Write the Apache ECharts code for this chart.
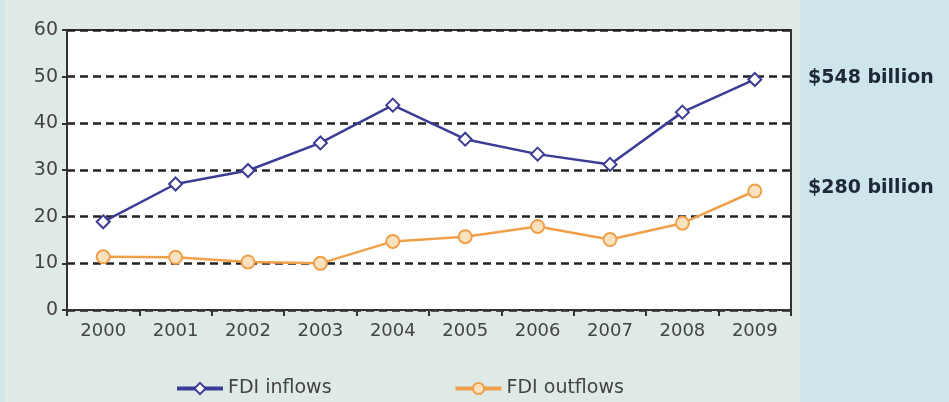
<!DOCTYPE html>
<html>
<head>
<meta charset="utf-8">
<script src="https://cdn.jsdelivr.net/npm/echarts@6/dist/echarts.min.js"></script>
<style>
  html, body { margin: 0; padding: 0; }
  #chart { width: 949px; height: 402px; }
</style>
</head>
<body>
<div id="chart"></div>
<script>
// FDI, billions scaled as in the source chart
const years = ['2000', '2001', '2002', '2003', '2004', '2005', '2006', '2007', '2008', '2009'];
const inflows = [18.9, 27.0, 29.9, 35.8, 43.9, 36.6, 33.4, 31.2, 42.4, 49.4];
const outflows = [11.4, 11.3, 10.3, 10.0, 14.7, 15.7, 17.9, 15.1, 18.6, 25.5];
const sideNotes = ['$548 billion', '$280 billion'];

const chart = echarts.init(document.getElementById('chart'));

const option = {
  backgroundColor: '#dfeae6',
  animation: false,
  graphic: [
    { type: 'rect', z: -10, shape: { x: 800, y: 0, width: 149, height: 402 }, style: { fill: '#cde5eb' } },
    { type: 'rect', z: -10, shape: { x: 0, y: 0, width: 5, height: 402 }, style: { fill: '#d3e7ea' } },
    { type: 'text', left: 808, top: 69, style: { text: sideNotes[0], font: 'bold 19px "DejaVu Sans"', fill: '#1e2838' } },
    { type: 'text', left: 808, top: 179, style: { text: sideNotes[1], font: 'bold 19px "DejaVu Sans"', fill: '#1e2838' } }
  ],
  grid: {
    left: 67, right: 158, top: 30, bottom: 92,
    show: true, backgroundColor: '#ffffff', borderColor: '#333', borderWidth: 2
  },
  legend: {
    left: 170, top: 374, itemWidth: 46, itemHeight: 14, itemGap: 122,
    lineStyle: { width: 4 },
    textStyle: { fontFamily: 'DejaVu Sans', fontSize: 19, color: '#444' },
    data: ['FDI inflows', 'FDI outflows']
  },
  xAxis: {
    type: 'category',
    data: years,
    axisLine: { lineStyle: { color: '#333', width: 2 } },
    axisTick: { show: true, length: 6, interval: 0, lineStyle: { color: '#333', width: 2 } },
    axisLabel: { interval: 0, margin: 12, fontFamily: 'DejaVu Sans', fontSize: 18, color: '#444' },
    splitLine: { show: false }
  },
  yAxis: {
    type: 'value', min: 0, max: 60, interval: 10,
    axisLine: { show: true, lineStyle: { color: '#333', width: 2 } },
    axisTick: { show: true, length: 5, lineStyle: { color: '#333', width: 2 } },
    axisLabel: { margin: 9, fontFamily: 'DejaVu Sans', fontSize: 19, color: '#444' },
    splitLine: { lineStyle: { color: '#222', width: 2.5, type: [8, 5] } }
  },
  series: [
    {
      name: 'FDI inflows', type: 'line', data: inflows,
      symbol: 'diamond', symbolSize: 13,
      lineStyle: { color: '#3c3c96', width: 2.5 },
      itemStyle: { color: '#ffffff', borderColor: '#3c3c96', borderWidth: 2 },
      z: 3
    },
    {
      name: 'FDI outflows', type: 'line', data: outflows,
      symbol: 'circle', symbolSize: 13,
      lineStyle: { color: '#f0a04b', width: 2.5 },
      itemStyle: { color: '#fbe2bf', borderColor: '#f0a04b', borderWidth: 2 },
      z: 3
    }
  ]
};

chart.setOption(option);
</script>
</body>
</html>
